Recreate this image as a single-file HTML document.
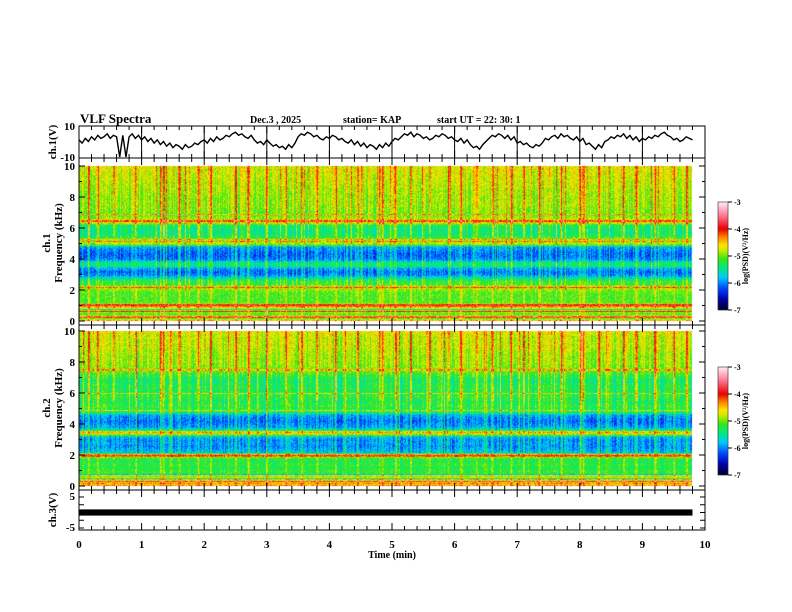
<!DOCTYPE html>
<html><head><meta charset="utf-8"><style>
body{margin:0;background:#fff;}
#wrap{position:relative;width:792px;height:612px;overflow:hidden;font-family:"Liberation Serif",serif;font-weight:bold;color:#000;}
canvas{position:absolute;left:0;top:0;}
svg{position:absolute;left:0;top:0;}
</style></head><body>
<div id="wrap">
<canvas id="cv" width="792" height="612"></canvas>
<svg id="sv" width="792" height="612" font-family="Liberation Serif, serif" font-weight="bold"></svg>
</div>
<script>
// ---- data ----
const freqNodes = [0,0.2,0.4,0.6,0.8,1.0,1.2,1.4,1.6,1.8,2.0,2.2,2.4,2.6,2.8,3.0,3.2,3.4,3.6,3.8,4.0,4.2,4.4,4.6,4.8,5.0,5.2,5.4,5.6,5.8,6.0,6.2,6.4,6.6,6.8,7.0,7.5,8.0,8.5,9.0,9.5,10];
const profile1 = [-4.3,-4.6,-5.0,-4.8,-5.0,-4.2,-5.1,-5.1,-5.1,-5.1,-5.0,-4.7,-5.2,-5.2,-5.6,-6.0,-6.1,-5.9,-5.4,-5.5,-6.0,-6.1,-6.1,-6.0,-5.9,-4.8,-4.9,-5.2,-5.4,-5.4,-5.4,-5.3,-4.6,-4.8,-5.0,-5.0,-4.9,-4.9,-4.85,-4.8,-4.75,-4.7];
const profile2 = [-4.3,-4.6,-4.8,-5.2,-5.2,-5.2,-5.3,-5.2,-5.3,-5.2,-4.6,-5.8,-5.9,-6.0,-5.9,-6.0,-5.8,-4.7,-5.4,-5.9,-6.0,-6.1,-6.0,-5.9,-5.3,-5.3,-5.2,-5.3,-5.3,-5.2,-5.3,-5.3,-5.3,-5.3,-5.4,-5.3,-5.0,-4.9,-4.9,-4.8,-4.8,-4.7];
const lines1 = [0.3,0.6,1.05,2.2,5.15,5.3,6.5,6.9];
const lines2 = [0.35,0.45,0.6,1.95,2.05,3.5,4.9,6.0,7.5];
const burstTimes = [0.15,0.3,0.55,0.9,1.3,1.35,1.6,1.9,2.1,2.5,2.7,3.0,3.3,3.55,3.8,4.1,4.45,4.8,4.85,5.05,5.3,5.6,5.9,6.1,6.35,6.6,6.9,7.1,7.35,7.7,8.0,8.05,8.3,8.7,8.9,9.2,9.5,9.7];
const ch1Values = [1,-1,2,0,3,1,4,2,3,5,2,4,3,-10,4,-10,3,5,2,4,1,3,0,2,-1,1,-2,0,-3,-1,-4,-2,-3,-5,-2,-4,-3,-1,-2,0,1,-1,2,0,3,1,2,4,3,5,6,4,5,3,2,4,1,-1,0,-2,1,-1,-3,-2,-4,-3,-5,-2,-4,-1,3,5,4,6,5,3,4,2,1,3,2,4,3,1,2,0,-1,1,-2,0,-3,-1,-4,-2,-3,-5,-2,-4,-1,-3,0,2,1,3,5,4,6,3,5,4,2,3,1,2,4,3,5,4,2,3,1,0,2,-1,1,-2,-4,-3,-5,-2,0,2,4,3,5,4,2,4,1,3,-1,0,-2,-1,-3,-4,-2,-3,-1,2,1,3,4,2,5,3,4,2,1,3,0,2,-2,-1,-3,-5,-2,-4,0,1,3,2,4,3,5,2,4,1,3,0,2,1,3,2,4,3,5,6,4,3,1,2,0,1,3,2,1];
const timeTicks = [0,1,2,3,4,5,6,7,8,9,10];
const cbTicks = [-3,-4,-5,-6,-7];
// ---- geometry ----
const X0=79,X1=705,DATA_END=9.8;
const xs=t=>X0+(X1-X0)*t/10;
const P={ch1:[126,157],s1:[166,321],s2:[331,486],ch3:[497,528]};
const boxes=[[126,158],[158,325],[325,490],[490,530]];
const stops=[[-7,0,0,40],[-6.6,0,0,170],[-6.2,0,70,255],[-5.8,0,200,255],[-5.45,0,235,130],[-5.1,60,230,20],[-4.8,200,235,0],[-4.6,255,230,0],[-4.3,255,130,0],[-4.0,235,0,0],[-3.5,255,120,150],[-3,255,240,245]];
function cmap(v){if(v<=-7)return stops[0].slice(1);if(v>=-3)return stops[stops.length-1].slice(1);
for(let i=0;i<stops.length-1;i++){const a=stops[i],b=stops[i+1];if(v>=a[0]&&v<=b[0]){const f=(v-a[0])/(b[0]-a[0]);return [a[1]+f*(b[1]-a[1]),a[2]+f*(b[2]-a[2]),a[3]+f*(b[3]-a[3])];}}}
function interp(p,f){for(let i=0;i<freqNodes.length-1;i++){if(f<=freqNodes[i+1]){const g=(f-freqNodes[i])/(freqNodes[i+1]-freqNodes[i]);return p[i]+g*(p[i+1]-p[i]);}}return p[p.length-1];}
function h(a,b){let n=(a*374761393+b*668265263)|0;n=(n^(n>>>13))*1274126177|0;return ((n^(n>>>16))>>>0)/4294967296;}
const cv=document.getElementById('cv'),ctx=cv.getContext('2d');
function spec(range,prof,lines,seed){
 const [yt,yb]=range,xe=Math.round(xs(DATA_END));
 const img=ctx.createImageData(xe-X0,yb-yt);
 for(let x=X0;x<xe;x++){
  let burst=0;for(const bt of burstTimes){const d=Math.abs(xs(bt)-x);if(d<1.2)burst=Math.max(burst,0.8-d*0.4);}
  const colN=(h(x,seed)-0.5)*0.45+(h(x,seed+7)>0.92?0.4:0);
  for(let y=yt;y<yb;y++){const f=(yb-y)/(yb-yt)*10;
   let v=interp(prof,f)+(h(x*3+seed,y)-0.5)*0.5+colN*(f>2?1:0.4);
   for(const lf of lines){if(Math.abs(f-lf)<0.05)v+=0.5;}
   v+=burst*(f>5.5?1:0.5);
   if(f<0.9)v+=(h(y,seed+3)-0.5)*1.2;
   const c=cmap(v),i=((y-yt)*(xe-X0)+(x-X0))*4;img.data[i]=c[0];img.data[i+1]=c[1];img.data[i+2]=c[2];img.data[i+3]=255;}}
 ctx.putImageData(img,X0,yt);
}
spec(P.s1,profile1,lines1,11);
spec(P.s2,profile2,lines2,29);
function cbar(yt,yb){const g=ctx.createLinearGradient(0,yb,0,yt);for(const s of stops){g.addColorStop((s[0]+7)/4,`rgb(${s[1]},${s[2]},${s[3]})`);}ctx.fillStyle=g;ctx.fillRect(718,yt,10,yb-yt);}
cbar(202,310);cbar(367,475);
// ---- svg ----
const sv=document.getElementById('sv'),NS='http://www.w3.org/2000/svg';
function el(tag,at,txt){const e=document.createElementNS(NS,tag);for(const k in at)e.setAttribute(k,at[k]);if(txt!==undefined)e.textContent=txt;sv.appendChild(e);return e;}
function txt(x,y,s,size,anchor,name,rot){const e=el('text',{x:x,y:y,'font-size':size,'text-anchor':anchor||'start'},s);if(rot)e.setAttribute('transform',`rotate(-90 ${x} ${y})`);

return e;}
boxes.forEach((b,i)=>{const r=el('rect',{x:X0,y:b[0],width:X1-X0,height:b[1]-b[0],fill:'none',stroke:'#000','stroke-width':1});


for(let k=0;k<=50;k++){const x=xs(k/5),L=k%5==0?7:4;
 el('line',{x1:x,y1:b[0],x2:x,y2:b[0]+L,stroke:'#000'});el('line',{x1:x,y1:b[1],x2:x,y2:b[1]-L,stroke:'#000'});}
});
for(let k=1;k<10;k++){el('line',{x1:xs(k),y1:126,x2:xs(k),y2:158,stroke:'#000'});}
[P.s1,P.s2].forEach((r,j)=>{for(let f=0;f<=10;f++){const y=r[1]-(r[1]-r[0])*f/10;el('line',{x1:X0,y1:y,x2:X0+(f%2?3:6),y2:y,stroke:'#000'});el('line',{x1:X1,y1:y,x2:X1-(f%2?3:6),y2:y,stroke:'#000'});
 if(f%2==0)txt(X0-4,y+4,String(f),11,'end','freq-tick-label');}});
const yv1=v=>P.ch1[0]+(10-v)/20*(P.ch1[1]-P.ch1[0]);
let d='';ch1Values.forEach((v,i)=>{d+=(i?'L':'M')+xs(i*DATA_END/(ch1Values.length-1)).toFixed(1)+','+yv1(v).toFixed(1);});
const tr=el('path',{d:d,fill:'none',stroke:'#000','stroke-width':1.4});


txt(X0-4,130,'10',11,'end','ch1-ymax');txt(X0-4,161,'-10',11,'end','ch1-ymin');
const yv3=v=>P.ch3[0]+(5-v)/10*(P.ch3[1]-P.ch3[0]);
const b3=el('rect',{x:X0,y:yv3(1),width:xs(DATA_END)-X0,height:yv3(-1)-yv3(1),fill:'#000'});


for(let v=-5;v<=5;v+=2.5){const y=yv3(v);el('line',{x1:X0,y1:y,x2:X0+5,y2:y,stroke:'#000'});el('line',{x1:X1,y1:y,x2:X1-5,y2:y,stroke:'#000'});}
txt(X0-4,500,'5',11,'end','ch3-ymax');txt(X0-4,531,'-5',11,'end','ch3-ymin');
timeTicks.forEach(t=>txt(xs(t),548,String(t),11,'middle','time-tick-label'));
txt(392,558,'Time  (min)',10,'middle','x-axis-title');
txt(56,142,'ch.1(V)',11,'middle','ch1-axis-title',1);
txt(50,243,'ch.1',11,'middle','spec1-label',1);txt(62,243,'Frequency  (kHz)',11,'middle','spec1-axis-title',1);
txt(50,408,'ch.2',11,'middle','spec2-label',1);txt(62,408,'Frequency  (kHz)',11,'middle','spec2-axis-title',1);
txt(56,510,'ch.3(V)',11,'middle','ch3-axis-title',1);
txt(80,123,'VLF Spectra',13,'start','title');
txt(250,123,'Dec.3  , 2025',10,'start','date-label');
txt(343,123,'station= KAP',10,'start','station-label');
txt(437,123,'start  UT  =   22: 30: 1',10,'start','start-time-label');
[[202,310],[367,475]].forEach((r,j)=>{el('rect',{x:718,y:r[0],width:10,height:r[1]-r[0],fill:'none',stroke:'#000','stroke-width':0.5});
 cbTicks.forEach(v=>{const y=r[0]+(-3-v)/4*(r[1]-r[0]);el('line',{x1:728,y1:y,x2:732,y2:y,stroke:'#000'});txt(734,y+3,String(v),8,'start','colorbar-tick');});
 txt(748,(r[0]+r[1])/2,'log(PSD)(V²/Hz)',8,'middle','colorbar-title',1);});
</script>
</body></html>
